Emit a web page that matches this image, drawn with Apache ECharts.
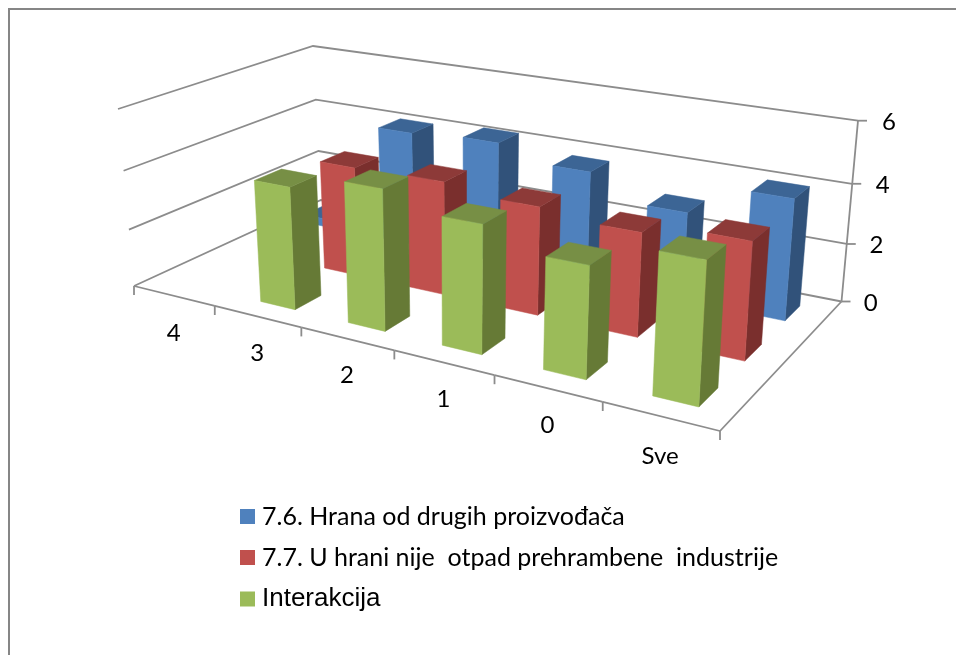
<!DOCTYPE html>
<html><head><meta charset="utf-8">
<style>html,body{margin:0;padding:0;background:#fff;overflow:hidden}#c{width:956px;height:655px}</style>
<script src="https://cdn.jsdelivr.net/npm/echarts@6/dist/echarts.min.js"></script>
</head><body><div id="c"></div>
<script>
const categories = ['4','3','2','1','0','Sve'];
const valueTicks = [0,2,4,6];
const seriesNames = ['Interakcija','7.7. U hrani nije  otpad prehrambene  industrije','7.6. Hrana od drugih proizvođača'];
const interakcija = [null,4.1,4.6,4.1,3.5,4.3];
const otpad = [null,3.8,3.87,3.62,3.4,3.75];
const hrana = [0.3,4.12,4.27,3.8,3.0,4.03];

const faces = [
  {front:'#9BBB59',side:'#667A36',top:'#778F45'},
  {front:'#C0504D',side:'#7A2F2D',top:'#8D3A38'},
  {front:'#4F81BD',side:'#31527A',top:'#3C6595'}
];
const GAP = 0.3, LINE = '#8c8c8c';
// floor and ceiling outline of the perspective box, in the order front-left, front-right, back-right, back-left
const floorQuad = [[134,286],[720,431],[841.5,301.5],[321,200]];
const topQuad = [[118,109],[732,215],[858,120.7],[313,46]];
function homography(q){
  const [p0,p1,p2,p3]=q;
  const dx1=p1[0]-p2[0],dx2=p3[0]-p2[0],dx3=p0[0]-p1[0]+p2[0]-p3[0];
  const dy1=p1[1]-p2[1],dy2=p3[1]-p2[1],dy3=p0[1]-p1[1]+p2[1]-p3[1];
  const d=dx1*dy2-dx2*dy1;
  const g=(dx3*dy2-dx2*dy3)/d,h=(dx1*dy3-dx3*dy1)/d;
  const a=p1[0]-p0[0]+g*p1[0],b=p3[0]-p0[0]+h*p3[0],c=p0[0];
  const e=p1[1]-p0[1]+g*p1[1],f=p3[1]-p0[1]+h*p3[1],k=p0[1];
  return (u,v)=>{const w=g*u+h*v+1;return [(a*u+b*v+c)/w,(e*u+f*v+k)/w];};
}
const H0=homography(floorQuad),H1=homography(topQuad);
function P(u,v,w){
  const A=0.933,t=A*w/(1+(A-1)*w);
  const p=H0(u,v),q=H1(u,v);
  return [p[0]+(q[0]-p[0])*t,p[1]+(q[1]-p[1])*t];
}
function norm(api,params,cat,val){
  const cs=params.coordSys,c=api.coord([cat,val]);
  return {u:(c[0]-cs.x)/cs.width,w:(cs.y+cs.height-c[1])/cs.height,bw:api.size([1,0])[0]/cs.width};
}
const poly=(pts,color)=>({type:'polygon',shape:{points:pts},style:{fill:color,stroke:color,lineWidth:0.5}});
const line=(pts)=>({type:'polyline',shape:{points:pts},style:{fill:null,stroke:LINE,lineWidth:1.8}});
const label=(x,y,t)=>({type:'text',x:x,y:y,style:{text:t,fill:'#000',font:'24px Lato',align:'center',verticalAlign:'middle'}});

function renderBar(params,api){
  const val=api.value(1);
  if(val==null||isNaN(val))return;
  const j=params.seriesIndex-2;
  const n=norm(api,params,api.value(0),val);
  const u0=n.u-n.bw/2+n.bw*GAP,u1=n.u+n.bw/2-n.bw*GAP;
  const v0=(j+GAP)/3,v1=(j+1-GAP)/3,w=n.w,f=faces[j];
  return {type:'group',children:[
    poly([P(u1,v0,0),P(u1,v1,0),P(u1,v1,w),P(u1,v0,w)],f.side),
    poly([P(u0,v0,w),P(u1,v0,w),P(u1,v1,w),P(u0,v1,w)],f.top),
    poly([P(u0,v0,0),P(u1,v0,0),P(u1,v0,w),P(u0,v0,w)],f.front)
  ]};
}
function renderValueTick(params,api){
  const val=api.value(0);
  const w=norm(api,params,0,val).w;
  const end=P(1,1,w);
  const kids=[line([P(0,0,w),P(0,1,w),end]),line([end,[end[0]+9,end[1]]]),label(end[0]+31-(6-val)*0.3,end[1]+1.5,String(val))];
  if(val>0)kids.push(line([P(1,1,norm(api,params,0,val-2).w),end]));
  return {type:'group',children:kids};
}
function renderCategory(params,api){
  const i=api.value(0),n=norm(api,params,i,0);
  const u0=n.u-n.bw/2,u1=n.u+n.bw/2;
  const last=i===categories.length-1;
  const a=P(u0,0,0),b=P(u1,0,0),m=P(n.u,0,0);
  const kids=[line([a,b]),line([a,[a[0],a[1]+9]]),label(m[0],m[1]+(last?40:37),categories[i])];
  if(last)kids.push(line([b,[b[0],b[1]+9]]),line([b,P(1,1,0)]));
  return {type:'group',children:kids};
}
const barData=a=>a.map((v,i)=>[i,v]);
const chart=echarts.init(document.getElementById('c'),null,{renderer:'canvas'});
chart.setOption({
  animation:false,
  backgroundColor:'#fff',
  tooltip:{show:false},
  graphic:[{type:'polyline',silent:true,z:0,shape:{points:[[9,700],[9,9],[1000,9]]},style:{fill:null,stroke:'#868686',lineWidth:2}}],
  grid:{left:100,top:100,width:600,height:300},
  xAxis:{type:'category',data:categories,show:false},
  yAxis:{type:'value',min:0,max:6,interval:2,show:false},
  legend:{
    orient:'vertical',left:235,top:499,itemWidth:15,itemHeight:15,itemGap:16,icon:'rect',
    selectedMode:false,
    textStyle:{fontFamily:'Lato',fontSize:25,color:'#000',padding:[0,0,0,2]},
    data:[
      {name:seriesNames[2]},
      {name:seriesNames[1]},
      {name:seriesNames[0],textStyle:{fontFamily:'Liberation Sans',fontSize:26}}
    ]
  },
  series:[
    {type:'custom',name:'_v',coordinateSystem:'cartesian2d',data:valueTicks.map(v=>[v]),encode:{x:[],y:0},renderItem:renderValueTick,silent:true,clip:false,z:1},
    {type:'custom',name:'_c',coordinateSystem:'cartesian2d',data:categories.map((c,i)=>[i]),encode:{x:0,y:[]},renderItem:renderCategory,silent:true,clip:false,z:1},
    {type:'custom',name:seriesNames[0],coordinateSystem:'cartesian2d',itemStyle:{color:faces[0].front},data:barData(interakcija),renderItem:renderBar,silent:true,clip:false,z:4},
    {type:'custom',name:seriesNames[1],coordinateSystem:'cartesian2d',itemStyle:{color:faces[1].front},data:barData(otpad),renderItem:renderBar,silent:true,clip:false,z:3},
    {type:'custom',name:seriesNames[2],coordinateSystem:'cartesian2d',itemStyle:{color:faces[2].front},data:barData(hrana),renderItem:renderBar,silent:true,clip:false,z:2}
  ]
});
</script></body></html>
